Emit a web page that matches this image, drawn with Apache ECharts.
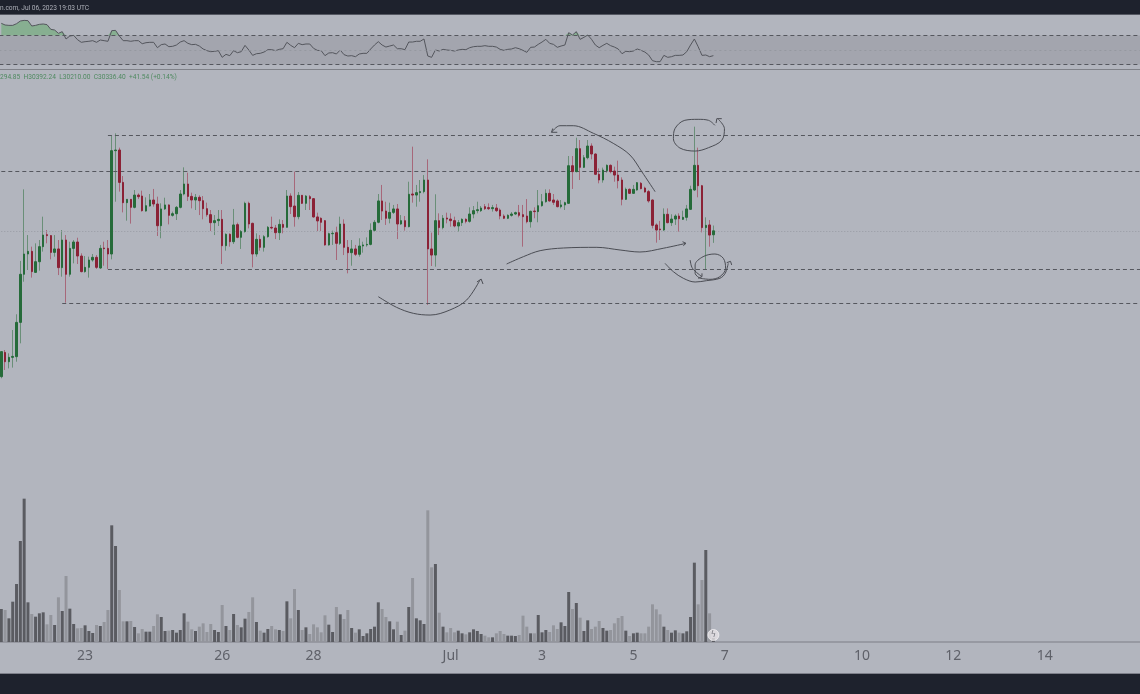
<!DOCTYPE html>
<html>
<head>
<meta charset="utf-8">
<style>html,body{margin:0;padding:0;background:#b2b5be}#c{width:1140px;height:694px}</style>
<script src="https://cdn.jsdelivr.net/npm/echarts@6/dist/echarts.min.js"></script>
</head>
<body>
<div id="c"></div>
<script>
// ---- 2-hour candles, one value per candle ----
const opens = [28805,29060,28962,29008,29015,29375,29880,30093,30121,29900,30012,30170,30296,30286,30110,30146,29950,30240,29880,30152,30219,30072,29908,29953,30030,30058,29946,30156,30152,30093,31178,31185,30845,30632,30667,30583,30712,30702,30544,30597,30660,30618,30390,30566,30608,30499,30516,30583,30723,30828,30698,30660,30688,30653,30569,30506,30422,30443,30457,30180,30300,30222,30401,
30268,30328,30625,30415,30093,30247,30163,30275,30373,30366,30317,30404,30373,30702,30597,30485,30709,30625,30695,30674,30482,30468,30443,30188,30306,30317,30205,30408,30163,30107,30146,30090,30177,30188,30194,30342,30426,30650,30544,30468,30530,30566,30408,30443,30380,30723,30712,30737,30748,30870,30146,30082,30443,30370,30471,30460,30443,30387,30422,30457,30436,30513,30548,
30548,30590,30580,30569,30576,30555,30492,30468,30499,30513,30527,30506,30492,30432,30544,30538,30600,30642,30730,30660,30650,30590,30608,30625,31020,30958,31199,31003,31104,31227,31143,30930,30870,30968,31024,30964,30922,30870,30667,30772,30730,30765,30835,30786,30748,30660,30398,30355,30345,30510,30422,30460,30492,30457,30478,30562,30765,31024,30810,30370,30398,30294.85];
const closes = [29068,28962,29008,29018,29375,29880,30093,30121,29908,30012,30170,30292,30286,30110,30146,29950,30240,29880,30152,30219,30072,29908,29953,30030,30058,29953,30152,30149,30093,31178,31185,30845,30632,30667,30583,30712,30695,30548,30600,30660,30618,30390,30566,30608,30499,30516,30583,30723,30828,30698,30660,30688,30653,30569,30506,30422,30443,30457,30180,30300,30222,30398,30268,
30328,30625,30408,30093,30247,30163,30275,30373,30366,30317,30404,30373,30702,30590,30485,30709,30625,30702,30674,30482,30440,30426,30188,30306,30310,30205,30408,30163,30107,30146,30090,30177,30188,30194,30342,30426,30650,30544,30468,30530,30566,30408,30443,30380,30720,30712,30737,30748,30870,30146,30082,30443,30370,30468,30460,30443,30387,30422,30457,30436,30513,30548,30558,
30576,30569,30569,30580,30548,30492,30468,30499,30513,30527,30499,30485,30432,30541,30538,30600,30642,30730,30650,30636,30590,30608,30632,31020,30958,31199,31003,31104,31227,31143,30930,30870,30975,31024,30958,30922,30863,30667,30772,30730,30772,30842,30779,30744,30650,30394,30345,30348,30510,30422,30460,30492,30464,30478,30566,30772,31024,30810,30370,30394,30292,30336.40];
const lows = [28788,28875,28892,28900,28962,29155,29802,29925,29845,29897,29918,30118,30205,30037,30065,29872,29855,29582,29855,29995,29988,29900,29897,29845,30012,29936,29936,29970,29936,30037,30642,30748,30530,30443,30412,30572,30670,30538,30538,30590,30590,30282,30258,30555,30404,30485,30450,30572,30709,30650,30572,30555,30502,30457,30485,30334,30292,30387,29988,30128,30170,30198,30258,
30146,30317,30362,29953,30065,30128,30118,30264,30352,30250,30240,30310,30373,30513,30380,30457,30618,30555,30555,30474,30334,30334,30180,30180,30188,30030,30188,30082,29890,29970,30072,30065,30107,30170,30184,30328,30415,30450,30398,30415,30513,30250,30398,30338,30373,30632,30590,30642,30730,29558,29967,29960,30292,30352,30415,30380,30373,30328,30387,30415,30422,30468,30520,
30534,30555,30555,30538,30534,30457,30460,30460,30485,30502,30478,30170,30415,30370,30468,30426,30590,30632,30642,30608,30583,30572,30555,30618,30776,30950,30870,30996,31087,31087,30922,30835,30842,30947,30940,30852,30782,30604,30660,30723,30723,30758,30772,30737,30632,30362,30212,30240,30334,30415,30387,30398,30328,30450,30443,30555,30754,30688,30320,29925,30170,30210];
const highs = [29068,29085,29050,29295,29460,30020,30772,30292,30170,30205,30240,30485,30345,30292,30292,30240,30345,30292,30222,30240,30264,30100,30072,30065,30093,30082,30188,30222,30240,31332,31360,31210,30912,30667,30670,30765,30730,30758,30688,30723,30776,30695,30625,30684,30614,30538,30597,30765,31003,30947,30737,30723,30709,30702,30632,30555,30502,30555,30555,30310,30310,30566,30422,
30345,30642,30642,30422,30310,30292,30292,30387,30485,30398,30457,30450,30765,30730,30958,30744,30712,30712,30712,30681,30527,30478,30450,30317,30338,30380,30485,30457,30240,30240,30188,30258,30222,30268,30415,30450,30723,30818,30642,30632,30608,30618,30502,30492,30852,31220,30818,30870,30922,31087,30317,30720,30520,30502,30527,30520,30485,30450,30468,30468,30583,30597,30642,
30597,30618,30625,30608,30618,30572,30510,30510,30534,30538,30608,30608,30670,30548,30583,30765,30723,30772,30772,30723,30667,30660,30642,31122,31122,31314,31290,31132,31290,31255,31150,30992,31000,31034,31034,31010,31073,30898,30790,30782,30818,30849,30849,30800,30765,30667,30415,30440,30572,30572,30510,30510,30520,30548,30608,30810,31430,31210,30818,30478,30450,30392.24];
const volumes = [99,96,71,121,174,303,430,119,84,76,86,89,53,81,51,134,93,198,100,54,41,42,50,33,27,51,48,60,96,350,288,156,62,62,63,45,26,39,31,31,48,83,75,33,34,36,28,36,86,61,38,33,46,56,30,54,36,30,111,48,36,84,51,
44,70,90,134,60,34,28,39,48,38,36,33,122,71,159,96,36,44,24,53,44,29,80,52,30,105,83,69,96,42,28,38,18,26,39,46,119,99,75,62,38,61,21,34,105,192,71,65,54,395,224,234,88,46,29,42,29,34,26,23,29,38,33,
24,19,14,14,26,33,24,19,19,18,21,79,46,26,26,81,29,36,30,50,39,59,48,150,99,117,73,33,65,39,46,63,42,34,36,56,72,78,34,18,26,28,26,26,46,113,98,83,46,36,28,35,28,26,32,75,238,113,186,276,86,12];
const rsi = [86.8,84.5,84.0,84.0,86.3,90.0,90.9,90.5,83.1,84.0,85.4,85.9,85.0,78.5,77.6,73.0,75.3,65.2,69.3,70.2,64.3,60.6,61.5,62.0,62.9,60.6,63.8,62.9,62.0,76.7,77.1,69.3,62.9,62.9,62.0,62.9,62.9,58.7,60.1,60.6,60.6,53.2,57.4,58.3,54.6,55.1,56.9,61.0,62.9,59.2,57.4,57.8,55.5,51.4,49.1,47.7,48.2,49.1,39.9,44.0,42.2,49.1,46.3,
47.7,56.4,50.0,42.6,44.9,45.4,47.2,50.5,50.5,49.1,50.9,51.8,60.6,56.4,53.2,59.2,57.4,58.3,58.3,52.3,49.5,49.1,42.2,45.9,46.3,44.5,50.0,43.6,41.7,42.2,40.8,44.5,45.4,45.4,51.4,56.9,61.5,56.9,54.1,55.5,56.9,51.8,51.8,50.5,61.0,61.0,62.0,62.0,65.2,41.7,39.9,50.0,48.6,50.9,50.0,49.5,48.6,50.0,50.9,50.5,53.2,54.6,55.1,
55.1,56.0,55.1,55.1,54.1,50.9,49.5,50.9,51.4,53.2,51.8,49.5,46.8,53.7,54.1,57.8,61.0,64.7,59.2,57.8,53.7,55.5,56.9,73.9,70.7,75.3,64.7,67.5,70.7,64.7,56.9,53.2,56.4,59.2,56.0,54.1,51.4,44.9,48.2,47.7,48.6,51.4,49.5,47.2,43.1,35.3,33.9,33.9,42.6,39.9,40.8,42.6,42.6,43.1,47.7,56.9,65.2,54.6,42.6,43.1,40.8,42.2];

// ---- axis labels: candle index -> day label ----
const tickIndexes = [22,58,82,118,142,166,190,226,250,274];
const tickLabels  = ['23','26','28','Jul','3','5','7','10','12','14'];
const slotCount = 301;

// ---- horizontal levels: [price, first candle index] ----
const levelPrices = [31337,30959,29935,29573];
const levelStarts = [28,0,28,16];
const lastPrice = 30336.4;

// ---- hand-drawn sketches: [candle index, price] ----
const sketchDip = [[99,29645],[103.8,29533],[108.2,29470],[112.6,29452],[117.8,29505],[122.2,29610],[125.7,29820]];
const sketchDipHead = [[124.9,29799],[126,29830],[126.5,29778]];
const sketchFlow = [[132.7,29988],[137.1,30065],[141.5,30128],[147.6,30156],[156.4,30163],[162.5,30135],[167.7,30114],[173.8,30153],[179.8,30205]];
const sketchFlowHead = [[178.9,30222],[179.8,30205],[179.1,30180]];
const sketchArc = [[171.7,30747],[168.2,30957],[165.1,31132],[160.7,31255],[155.5,31360],[150.2,31440],[146.7,31440],[144.5,31371]];
const sketchArcHead = [[144.8,31411],[144.5,31371],[146,31371]];
const sketchTopRing = [[187.4,31444],[185.7,31497],[183,31507],[179.5,31497],[176.9,31409],[176.5,31304],[178.2,31206],[182.2,31174],[185.7,31209],[189.2,31287],[189.9,31409],[188.3,31507]];
const sketchTopRingHead = [[187.7,31468],[187.9,31514],[189.2,31514]];
const sketchLow = [[174.3,29995],[176.5,29907],[179.1,29838],[182.2,29799],[185.2,29813],[188.7,29838],[190.1,29890],[190.9,29995]];
const sketchLowHead = [[190.5,30002],[191.5,30016],[191.8,29978]];
const sketchLowRing = [[183.5,29838],[186.1,29827],[188.7,29855],[190.2,29943],[189.6,30048],[187.4,30093],[184.3,30065],[182.2,29978],[182.2,29890],[183.5,29838]];
const sketchShort = [[180.9,30030],[181.5,29943],[184,29855]];
const sketchShortHead = [[183,29838],[184,29855],[184,29890]];

// ---- texts ----
const stampText = 'n.com, Jul 06, 2023 19:03 UTC';
const ohlcText = '294.85  H30392.24  L30210.00  C30336.40  +41.54 (+0.14%)';

const BG = '#b2b5be', DARK = '#1e222d';
const UP = '#266b3a', DOWN = '#8b2236', UPWICK = '#6a8f78', DOWNWICK = '#a7687a';
const VOLUP = '#5a5b61', VOLDOWN = '#93959c';

const categories = [];
for (let i = 0; i < slotCount; i++) categories.push('c' + i);
const ohlc = opens.map((o, i) => [o, closes[i], lows[i], highs[i]]);
const bodies = opens.map((o, i) => [o, closes[i], Math.min(o, closes[i]), Math.max(o, closes[i])]);
const volumeData = volumes.map((v, i) => ({
  value: v,
  itemStyle: { color: closes[i] >= opens[i] ? VOLUP : VOLDOWN }
}));
const rsiAbove = rsi.map(v => Math.max(v, 70));

const gridBox = { left: -0.6, width: 3.808 * slotCount, outerBoundsMode: 'none' };
function sketch(data, smooth, width) {
  return { type: 'line', xAxisIndex: 3, yAxisIndex: 1, data, smooth: smooth ? 0.35 : false, showSymbol: false,
    symbol: 'none', silent: true, z: 8, clip: false,
    lineStyle: { color: '#4b4d54', width: width || 1 } };
}
const dashed = { color: '#55575e', width: 1, type: [4, 3] };
const levelLines = levelPrices.map((p, k) => [
  { coord: [levelStarts[k], p] },
  { coord: [slotCount - 1, p] }
]);

const chart = echarts.init(document.getElementById('c'), null, { renderer: 'canvas' });
chart.setOption({
  animation: false,
  backgroundColor: BG,
  title: [
    { text: stampText, left: 0, top: 5, padding: 0, textStyle: { color: '#aeb1b9', fontSize: 6.6, fontWeight: 'normal', fontFamily: 'Roboto' } },
    { text: ohlcText, left: 0, top: 74, padding: 0, textStyle: { color: '#4f8a60', fontSize: 6.6, fontWeight: 'normal', fontFamily: 'Roboto' } }
  ],
  graphic: [
    { type: 'rect', shape: { x: 0, y: 0, width: 1140, height: 14 }, style: { fill: DARK }, z: -1 },
    { type: 'rect', shape: { x: 0, y: 14, width: 1140, height: 1 }, style: { fill: '#555862' }, z: -1 },
    { type: 'rect', shape: { x: 0, y: 673, width: 1140, height: 21 }, style: { fill: DARK }, z: -1 },
    { type: 'rect', shape: { x: 0, y: 673, width: 1140, height: 1 }, style: { fill: '#7e808a' }, z: -1 },
    { type: 'rect', shape: { x: 0, y: 69, width: 1140, height: 1 }, style: { fill: '#7f8188' }, z: -1 }
  ],
  grid: [
    Object.assign({ top: 15, height: 54 }, gridBox),
    Object.assign({ top: 70, height: 400 }, gridBox),
    Object.assign({ top: 442, height: 200 }, gridBox)
  ],
  xAxis: [
    { type: 'category', gridIndex: 0, data: categories, show: false },
    { type: 'category', gridIndex: 1, data: categories, show: false },
    { type: 'category', gridIndex: 2, data: categories,
      axisLine: { lineStyle: { color: '#8e9098', width: 1.5 } },
      axisTick: { show: false },
      axisLabel: { interval: (idx) => tickIndexes.includes(idx), margin: 7, color: '#5f6169', fontSize: 14, fontFamily: 'Noto Sans',
        formatter: (v, idx) => { const k = tickIndexes.indexOf(idx); return k >= 0 ? tickLabels[k] : ''; } } },
    { type: 'value', gridIndex: 1, min: -0.5, max: slotCount - 0.5, show: false }
  ],
  yAxis: [
    { type: 'value', gridIndex: 0, min: 23.8, max: 98.3, show: false },
    { type: 'value', gridIndex: 1, min: 27825, max: 32025, show: false },
    { type: 'value', gridIndex: 2, min: 0, max: 600, show: false }
  ],
  series: [
    { type: 'line', xAxisIndex: 0, yAxisIndex: 0, data: rsiAbove, symbol: 'none', silent: true, z: 2,
      lineStyle: { width: 0 }, areaStyle: { origin: 70, color: '#7fae8a', opacity: 0.85 } },
    { type: 'line', xAxisIndex: 0, yAxisIndex: 0, data: rsi, symbol: 'none', silent: true, z: 3,
      lineStyle: { color: '#54565d', width: 1 },
      markArea: { silent: true, itemStyle: { color: '#a3a5ae' }, data: [[{ yAxis: 70 }, { yAxis: 30 }]] },
      markLine: { silent: true, symbol: 'none', label: { show: false }, data: [
        { yAxis: 70, lineStyle: dashed },
        { yAxis: 30, lineStyle: dashed },
        { yAxis: 50, lineStyle: { color: '#9598a0', width: 1, type: [2, 3] } }
      ] } },
    { name: 'wicks', type: 'candlestick', xAxisIndex: 1, yAxisIndex: 1, data: ohlc, barWidth: 1, z: 4,
      itemStyle: { color: UPWICK, color0: DOWNWICK, borderColor: UPWICK, borderColor0: DOWNWICK, borderWidth: 1 },
      markLine: { silent: true, symbol: 'none', label: { show: false }, lineStyle: dashed, animation: false, data: levelLines.concat([
        [{ coord: [0, lastPrice], lineStyle: { color: '#989ba3', width: 1, type: [1, 2] } }, { coord: [slotCount - 1, lastPrice] }]
      ]) } },
    { name: 'bodies', type: 'candlestick', xAxisIndex: 1, yAxisIndex: 1, data: bodies, barWidth: 2, z: 5,
      itemStyle: { color: UP, color0: DOWN, borderColor: UP, borderColor0: DOWN, borderWidth: 1 } },
    { type: 'bar', xAxisIndex: 2, yAxisIndex: 2, data: volumeData, barWidth: 3, z: 3, silent: true },
    sketch(sketchDip, true), sketch(sketchDipHead),
    sketch(sketchFlow, true), sketch(sketchFlowHead),
    sketch(sketchArc, true), sketch(sketchArcHead),
    sketch(sketchTopRing, true), sketch(sketchTopRingHead),
    sketch(sketchLow, true), sketch(sketchLowHead),
    sketch(sketchLowRing, true),
    sketch(sketchShort, true), sketch(sketchShortHead),
    { type: 'scatter', xAxisIndex: 2, yAxisIndex: 2, data: [[187, 21]], symbol: 'circle', symbolSize: 11, z: 9, silent: true,
      itemStyle: { color: '#e6e2e6', borderColor: '#f3f0f3', borderWidth: 1 },
      label: { show: true, position: 'inside', formatter: 'ϟ', color: '#5c5e65', fontSize: 8, fontFamily: 'DejaVu Sans' } }
  ]
});
</script>
</body>
</html>
